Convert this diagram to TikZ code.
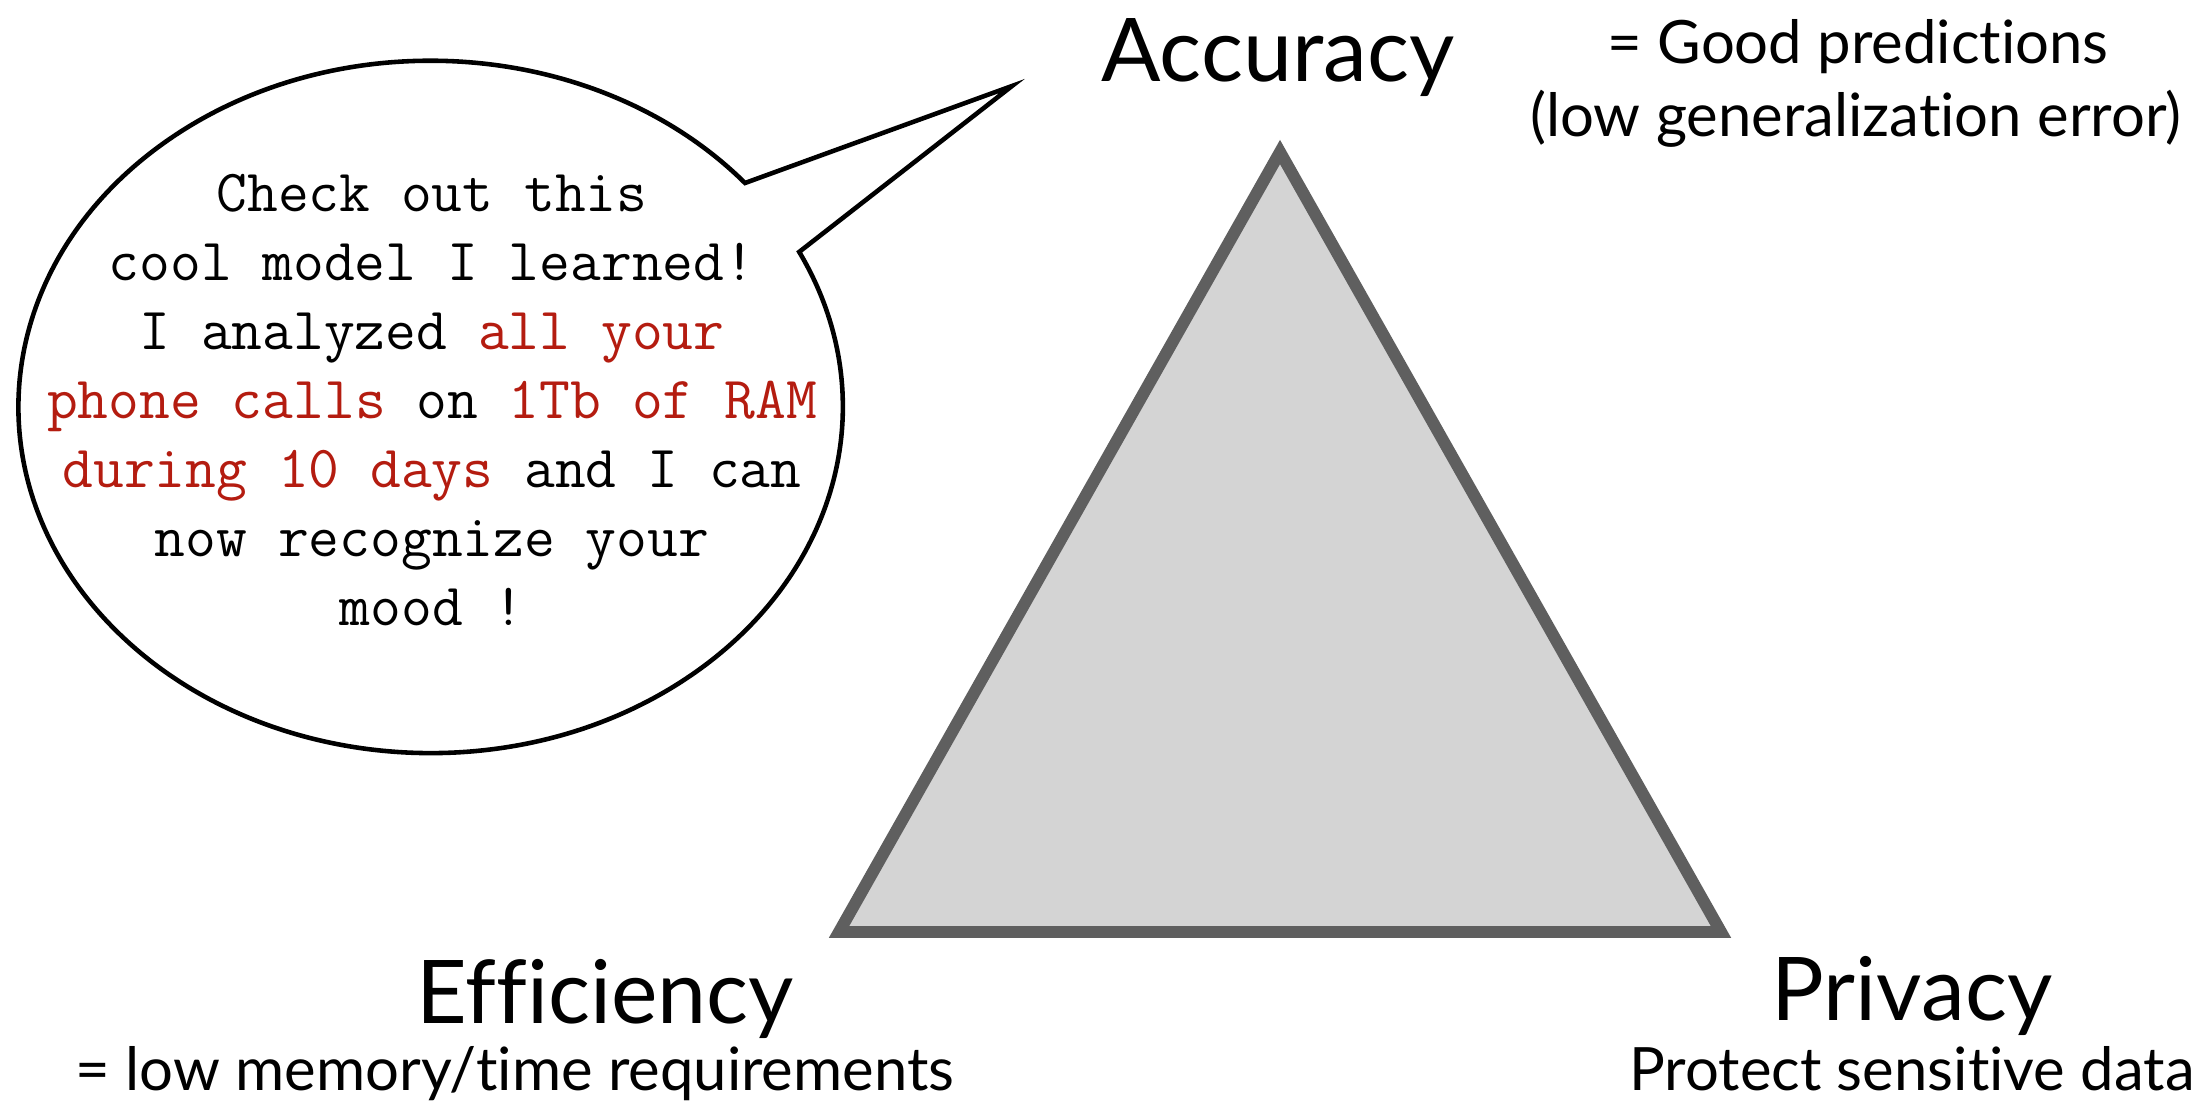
\documentclass[tikz,border=0pt]{standalone}
\usepackage{fontspec}
\setmainfont{Lato}[Ligatures=NoCommon]
\definecolor{trifill}{RGB}{212,212,212}
\definecolor{tristroke}{RGB}{95,95,95}
\definecolor{hl}{RGB}{180,28,16}
\tikzset{
  bigtitle/.style={font=\fontsize{25}{30}\selectfont, anchor=base, inner sep=0pt},
  subtitle/.style={font=\fontsize{17}{20}\selectfont, anchor=base, inner sep=0pt},
  bubbleline/.style={line width=1.3pt, fill=white, line join=miter},
  tri/.style={draw=tristroke, fill=trifill, line width=3.4pt, line join=miter}
}
\begin{document}
\begin{tikzpicture}[x=0.01cm,y=0.01cm]
\useasboundingbox (0,0) rectangle (2197,-1103);
% triangle
\coordinate (apex) at (1280,-152);
\coordinate (bl) at (839,-932);
\coordinate (br) at (1721,-932);
\path[tri] (apex) -- (bl) -- (br) -- cycle;
% speech bubble
\coordinate (tailA) at (745,-183);
\coordinate (tip) at (1012,-86);
\draw[bubbleline] (tailA) arc[start angle=40.3, end angle=386.6, x radius=4.12cm, y radius=3.46cm] -- (tip) -- cycle;
\node[font=\ttfamily\fontsize{17}{19.6}\selectfont, align=center, inner sep=0pt] (bubbletext) at (432,-400)
  {Check out this\\
   cool model I learned!\\
   I analyzed \textcolor{hl}{all your}\\
   \textcolor{hl}{phone calls} on \textcolor{hl}{1Tb of RAM}\\
   \textcolor{hl}{during 10 days} and I can\\
   now recognize your\\
   mood !};
% labels
\node[bigtitle] (acc) at (1278,-81) {Accuracy};
\node[subtitle] (accdesc1) at (1858,-63) {= Good predictions};
\node[subtitle] (accdesc2) at (1856,-136) {(low generalization error)};
\node[bigtitle] (eff) at (605,-1023) {Efficiency};
\node[subtitle] (effdesc) at (515,-1090) {= low memory/time requirements};
\node[bigtitle] (priv) at (1912,-1020) {Privacy};
\node[subtitle] (privdesc) at (1912,-1090) {Protect sensitive data};
\end{tikzpicture}
\end{document}
